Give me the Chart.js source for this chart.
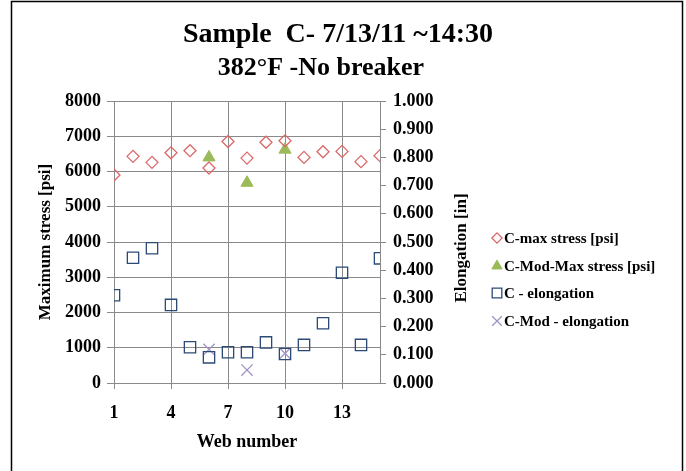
<!DOCTYPE html>
<html>
<head>
<meta charset="utf-8">
<script src="https://cdn.jsdelivr.net/npm/chart.js@4.4.1/dist/chart.umd.min.js"></script>
<style>
html,body{margin:0;padding:0;background:#fff;}
#wrap{position:relative;width:686px;height:471px;}
canvas{display:block;}
</style>
</head>
<body>
<div id="wrap"><canvas id="c" width="686" height="471"></canvas></div>
<script>
// ---- data ----
const titleLines = ['Sample  C- 7/13/11 ~14:30', '382°F -No breaker'];
const webNumbers = [1, 2, 3, 4, 5, 6, 7, 8, 9, 10, 11, 12, 13, 14, 15];
const cMaxStress = [5900, 6430, 6260, 6530, 6590, 6100, 6850, 6380, 6830, 6870, 6400, 6560, 6570, 6280, 6450];
const modWebNumbers = [6, 8, 10];
const cModMaxStress = [6400, 5680, 6620];
const cElongation = [0.311, 0.444, 0.478, 0.277, 0.127, 0.091, 0.109, 0.109, 0.144, 0.103, 0.135, 0.212, 0.391, 0.135, 0.442];
const cModElongation = [0.119, 0.046, 0.105];
const seriesLabels = ['C-max stress [psi]', 'C-Mod-Max stress [psi]', 'C - elongation', 'C-Mod - elongation'];
const xTickValues = [1, 4, 7, 10, 13];
const xTickLabels = ['1', '4', '7', '10', '13'];
const xTitle = 'Web number';
const yLeftTitle = 'Maximum stress [psi]';
const yRightTitle = 'Elongation [in]';

// ---- styling ----
const FONT = "'Liberation Serif', 'Times New Roman', serif";
const GRID = '#8a8a8a';

function pts(xs, ys) { return xs.map((x, i) => ({ x: x, y: ys[i] })); }

const decorPlugin = {
  id: 'decor',
  beforeDraw(chart) {
    const ctx = chart.ctx;
    ctx.save();
    ctx.fillStyle = '#fff';
    ctx.fillRect(0, 0, chart.width, chart.height);
    ctx.restore();
  },
  afterDraw(chart) {
    const ctx = chart.ctx;
    const area = chart.chartArea;
    ctx.save();
    // outer frame (bottom edge lies outside the picture)
    ctx.strokeStyle = '#000';
    ctx.lineWidth = 1.5;
    ctx.strokeRect(11.5, 1.5, 671, 480);

    // chart title
    ctx.fillStyle = '#000';
    ctx.textAlign = 'center';
    ctx.textBaseline = 'middle';
    ctx.font = 'bold 28px ' + FONT;
    ctx.fillText(titleLines[0], 338, 35);
    ctx.font = 'bold 26px ' + FONT;
    ctx.fillText(titleLines[1], 321, 68);

    // right axis title (reads bottom-to-top)
    ctx.font = 'bold 17px ' + FONT;
    ctx.translate(462, (area.top + area.bottom) / 2 + 6);
    ctx.rotate(-Math.PI / 2);
    ctx.fillText(yRightTitle, 0, 0);
    ctx.restore();

    // legend
    ctx.save();
    const rows = [238, 266, 293, 321];
    chart.data.datasets.forEach((ds, i) => {
      const y = rows[i];
      ctx.strokeStyle = ds.borderColor;
      ctx.fillStyle = ds.backgroundColor;
      ctx.lineWidth = ds.borderWidth;
      if (Chart.helpers && Chart.helpers.drawPoint) {
        Chart.helpers.drawPoint(ctx, { pointStyle: ds.pointStyle, rotation: 0, radius: ds.pointRadius * 0.85, borderWidth: ds.borderWidth }, 497, y);
      }
      ctx.fillStyle = '#000';
      ctx.font = 'bold 15px ' + FONT;
      ctx.textAlign = 'left';
      ctx.textBaseline = 'middle';
      ctx.fillText(ds.label, 504, y + 1);
    });
    ctx.restore();
  }
};

new Chart(document.getElementById('c'), {
  type: 'scatter',
  data: {
    datasets: [
      { label: seriesLabels[0], data: pts(webNumbers, cMaxStress), yAxisID: 'y',
        pointStyle: 'rectRot', pointRadius: 6, borderColor: '#DB6868', backgroundColor: 'rgba(255,255,255,0)', borderWidth: 1.3 },
      { label: seriesLabels[1], data: pts(modWebNumbers, cModMaxStress), yAxisID: 'y',
        pointStyle: 'triangle', pointRadius: 7, borderColor: '#9BBB59', backgroundColor: '#9BBB59', borderWidth: 1 },
      { label: seriesLabels[2], data: pts(webNumbers, cElongation), yAxisID: 'y1',
        pointStyle: 'rect', pointRadius: 8, borderColor: '#2B4A76', backgroundColor: 'rgba(255,255,255,0)', borderWidth: 1.3 },
      { label: seriesLabels[3], data: pts(modWebNumbers, cModElongation), yAxisID: 'y1',
        pointStyle: 'crossRot', pointRadius: 8, borderColor: '#A193C6', backgroundColor: 'rgba(255,255,255,0)', borderWidth: 1.3 }
    ]
  },
  options: {
    responsive: false,
    animation: false,
    devicePixelRatio: 1,
    layout: { padding: { top: 101, left: 10, right: 38, bottom: 10 } },
    plugins: {
      legend: { display: false },
      tooltip: { enabled: false },
      title: { display: false }
    },
    scales: {
      x: {
        type: 'linear', min: 1, max: 15,
        afterBuildTicks: (s) => { s.ticks = xTickValues.map(v => ({ value: v })); },
        afterFit: (s) => { s.height = 78; },
        ticks: {
          color: '#000', padding: 14, maxRotation: 0, autoSkip: false,
          font: { family: FONT, size: 18, weight: 'bold' },
          callback: (v) => { const k = xTickValues.indexOf(v); return k >= 0 ? xTickLabels[k] : ''; }
        },
        grid: { color: GRID, tickColor: GRID, tickLength: 6, lineWidth: 1 },
        border: { color: GRID },
        title: { display: true, text: xTitle, color: '#000', font: { family: FONT, size: 18, weight: 'bold' }, padding: { top: 0, bottom: 8 } }
      },
      y: {
        type: 'linear', position: 'left', min: 0, max: 8000,
        afterFit: (s) => { s.width = 104; },
        ticks: { stepSize: 1000, color: '#000', padding: 6, font: { family: FONT, size: 18, weight: 'bold' },
          callback: (v) => String(v) },
        grid: { color: GRID, tickColor: GRID, tickLength: 7, lineWidth: 1 },
        border: { color: GRID },
        title: { display: true, text: yLeftTitle, color: '#000', font: { family: FONT, size: 17, weight: 'bold' }, padding: { top: 25, bottom: 0 } }
      },
      y1: {
        type: 'linear', position: 'right', min: 0, max: 1,
        afterFit: (s) => { s.width = 268; },
        ticks: { stepSize: 0.1, color: '#000', padding: 7, font: { family: FONT, size: 18, weight: 'bold' },
          callback: (v) => Number(v).toFixed(3) },
        grid: { drawOnChartArea: false, color: GRID, tickColor: GRID, tickLength: 6 },
        border: { color: GRID }
      }
    }
  },
  plugins: [decorPlugin]
});
</script>
</body>
</html>
